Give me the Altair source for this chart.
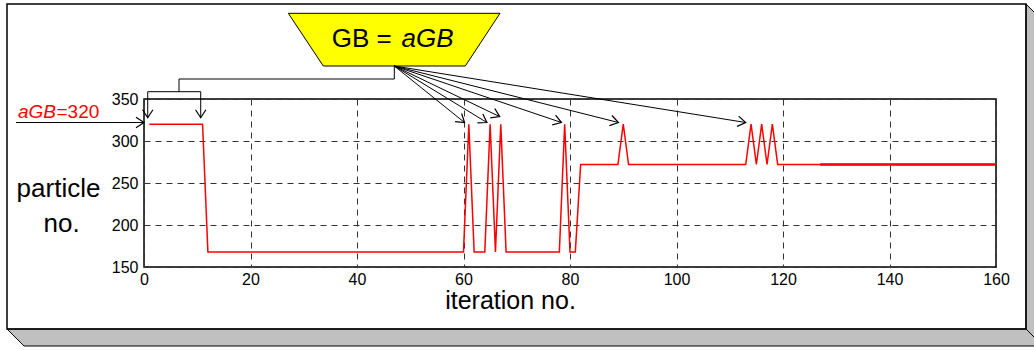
import math
import altair as alt
import pandas as pd

# ---------------- data ----------------
iterations = [1, 11, 12, 60, 61, 62, 64, 65, 66, 67, 68, 78, 79, 80, 81, 82,
              89, 90, 91, 113, 114, 115, 116, 117, 118, 119, 160]
particle_no = [320, 320, 168, 168, 320, 168, 168, 320, 168, 320, 168, 168, 320,
               168, 168, 272, 272, 320, 272, 272, 320, 272, 320, 272, 320, 272, 272]
thick_iter = [127, 160]
thick_val = [272, 272]

x_ticks = [0, 20, 40, 60, 80, 100, 120, 140, 160]
y_ticks = [150, 200, 250, 300, 350]

# annotation targets (data coordinates)
arrow_iter = [60.2, 64.4, 66.8, 78.4, 89.1, 113.0]
arrow_val = [322, 322, 329, 322, 322, 322]
down_iter = [0.7, 10.65]
down_val = [327.7, 327.7]
pointer_iter = [0]
pointer_val = [322]

# ---------------- layout ----------------
W, H = 852, 168
X_DOM, Y_DOM = [0, 160], [150, 350]
PAD = {"left": 144, "top": 99, "right": 1034 - 144 - W, "bottom": 350 - 99 - H}


def sx(v):
    return (v - X_DOM[0]) * W / (X_DOM[1] - X_DOM[0])


def sy(v):
    return (Y_DOM[1] - v) * H / (Y_DOM[1] - Y_DOM[0])


FONT = "Liberation Sans"
apex = (250.3, -33.0)  # bottom centre of the yellow box, plot-relative px

xs = alt.Scale(domain=X_DOM, nice=False, zero=False)
ys = alt.Scale(domain=Y_DOM, nice=False, zero=False)
x_axis = alt.Axis(values=x_ticks, grid=True, gridDash=[6, 5], gridColor="#333333",
                  gridWidth=1, ticks=False, tickSize=0, domain=False, labelFont=FONT,
                  labelFontSize=16, labelColor="black", labelPadding=4, title=None,
                  labelFlush=False, format="d")
y_axis = alt.Axis(values=y_ticks, grid=True, gridDash=[6, 5], gridColor="#333333",
                  gridWidth=1, ticks=False, tickSize=0, domain=False, labelFont=FONT,
                  labelFontSize=16, labelColor="black", labelPadding=6, title=None,
                  format="d")

dummy = pd.DataFrame({"d": [0]})

# ---------------- frame with 3-D shadow (pixel, plot-relative) ----------------
shadow = pd.DataFrame({
    "px": [-137, -120, 899, 899, 882, 882, -137],
    "py": [230, 247, 247, -78, -95, 230, 230],
    "o": list(range(7)),
})
shadow_layer = alt.Chart(shadow).mark_line(
    fill="#c0c0c0", stroke="black", strokeWidth=1, interpolate="linear"
).encode(x=alt.X("px:Q", scale=None), y=alt.Y("py:Q", scale=None), order="o:Q")

corner = alt.Chart(dummy).mark_rule(stroke="black", strokeWidth=1).encode(
    x=alt.value(882), x2=alt.value(899), y=alt.value(230), y2=alt.value(247))

box = alt.Chart(dummy).mark_rect(fillOpacity=0, stroke="black", strokeWidth=1.5).encode(
    x=alt.value(-137), x2=alt.value(882), y=alt.value(-95), y2=alt.value(230))

# ---------------- yellow trapezoid ----------------
trap = pd.DataFrame({
    "px": [144.3, 356.0, 321.3, 179.3, 144.3],
    "py": [-85.7, -85.7, -33.0, -33.0, -85.7],
    "o": list(range(5)),
})
trap_layer = alt.Chart(trap).mark_line(
    fill="#ffff00", stroke="black", strokeWidth=1
).encode(x=alt.X("px:Q", scale=None), y=alt.Y("py:Q", scale=None), order="o:Q")

gb1 = alt.Chart(dummy).mark_text(text="GB =", font=FONT, fontSize=26, align="right",
                                 baseline="alphabetic", color="black").encode(
    x=alt.value(247.7), y=alt.value(-51.7))
gb2 = alt.Chart(dummy).mark_text(text="aGB", font=FONT, fontSize=26, fontStyle="italic",
                                 align="left", baseline="alphabetic", color="black").encode(
    x=alt.value(257.5), y=alt.value(-51.7))

# ---------------- elbow connector (pixel) ----------------
elbow = pd.DataFrame({
    "x": [apex[0], 35.0, 35.0],
    "x2": [apex[0], apex[0], 35.0],
    "y": [apex[1], -20.0, -20.0],
    "y2": [-20.0, -20.0, -7.3],
})
elbow_layer = alt.Chart(elbow).mark_rule(stroke="black", strokeWidth=1).encode(
    x=alt.X("x:Q", scale=None), x2="x2:Q", y=alt.Y("y:Q", scale=None), y2="y2:Q")

down = pd.DataFrame({"it": down_iter, "v": down_val,
                     "ang": [90.0, 90.0]})
bar_df = pd.DataFrame({"a": [down_iter[0]], "b": [down_iter[1]]})
bar_layer = alt.Chart(bar_df).mark_rule(stroke="black", strokeWidth=1).encode(
    x=alt.X("a:Q", scale=xs, axis=x_axis), x2="b:Q", y=alt.value(-7.3))
down_lines = alt.Chart(down).mark_rule(stroke="black", strokeWidth=1).encode(
    x=alt.X("it:Q", scale=xs), y=alt.Y("v:Q", scale=ys, axis=y_axis), y2=alt.value(-7.3))

# ---------------- fan of arrows from the box ----------------
angs = []
for it, v in zip(arrow_iter, arrow_val):
    dx, dy = sx(it) - apex[0], sy(v) - apex[1]
    angs.append(math.degrees(math.atan2(dy, dx)) % 360)
fan = pd.DataFrame({"it": arrow_iter, "v": arrow_val, "ang": angs})
fan_lines = alt.Chart(fan).mark_rule(stroke="black", strokeWidth=1).encode(
    x=alt.X("it:Q", scale=xs), y=alt.Y("v:Q", scale=ys),
    x2=alt.value(apex[0]), y2=alt.value(apex[1]))

pointer = pd.DataFrame({"it": pointer_iter, "v": pointer_val, "ang": [0.0]})
pointer_line = alt.Chart(pointer).mark_rule(stroke="black", strokeWidth=1).encode(
    x=alt.X("it:Q", scale=xs), y=alt.Y("v:Q", scale=ys), x2=alt.value(-128))

heads_df = pd.concat([fan, down, pointer], ignore_index=True)
heads = alt.Chart(heads_df).mark_point(
    shape="M-1,-0.65L0,0L-1,0.65", filled=False, stroke="black", strokeWidth=1.2,
    size=256, opacity=1
).encode(x=alt.X("it:Q", scale=xs), y=alt.Y("v:Q", scale=ys),
         angle=alt.Angle("ang:Q", scale=None))

lab1 = alt.Chart(dummy).mark_text(text="aGB", font=FONT, fontSize=19, fontStyle="italic",
                                  align="right", baseline="alphabetic", color="#ff0000").encode(
    x=alt.value(-88), y=alt.value(19))
lab2 = alt.Chart(dummy).mark_text(text="=320", font=FONT, fontSize=19, align="left",
                                  baseline="alphabetic", color="#ff0000").encode(
    x=alt.value(-87.5), y=alt.value(19))

# ---------------- axis titles as text ----------------
t_part = alt.Chart(dummy).mark_text(text="particle", font=FONT, fontSize=26, align="center",
                                    baseline="alphabetic", color="black").encode(
    x=alt.value(-85.5), y=alt.value(97.7))
t_no = alt.Chart(dummy).mark_text(text="no.", font=FONT, fontSize=26, align="center",
                                  baseline="alphabetic", color="black").encode(
    x=alt.value(-82.3), y=alt.value(132.7))
t_iter = alt.Chart(dummy).mark_text(text="iteration no.", font=FONT, fontSize=25,
                                    align="center", baseline="alphabetic", color="black").encode(
    x=alt.value(366.5), y=alt.value(210))

# ---------------- the data line ----------------
series = pd.DataFrame({"iteration": iterations, "particles": particle_no})
line = alt.Chart(series).mark_line(color="#ff0000", strokeWidth=1.5).encode(
    x=alt.X("iteration:Q", scale=xs), y=alt.Y("particles:Q", scale=ys))
thick = alt.Chart(pd.DataFrame({"iteration": thick_iter, "particles": thick_val})).mark_line(
    color="#ff0000", strokeWidth=2.6).encode(
    x=alt.X("iteration:Q", scale=xs), y=alt.Y("particles:Q", scale=ys))

chart = alt.layer(
    shadow_layer, corner, box, bar_layer, down_lines, line, thick, trap_layer, gb1, gb2,
    elbow_layer, fan_lines, pointer_line, heads, lab1, lab2, t_part, t_no, t_iter
).properties(
    width=W, height=H, padding=PAD, autosize=alt.AutoSizeParams(type="none"),
    background="white"
).configure_view(stroke="black", strokeWidth=1.5)

chart.save("out.html", embed_options={"renderer": "svg", "actions": False})
